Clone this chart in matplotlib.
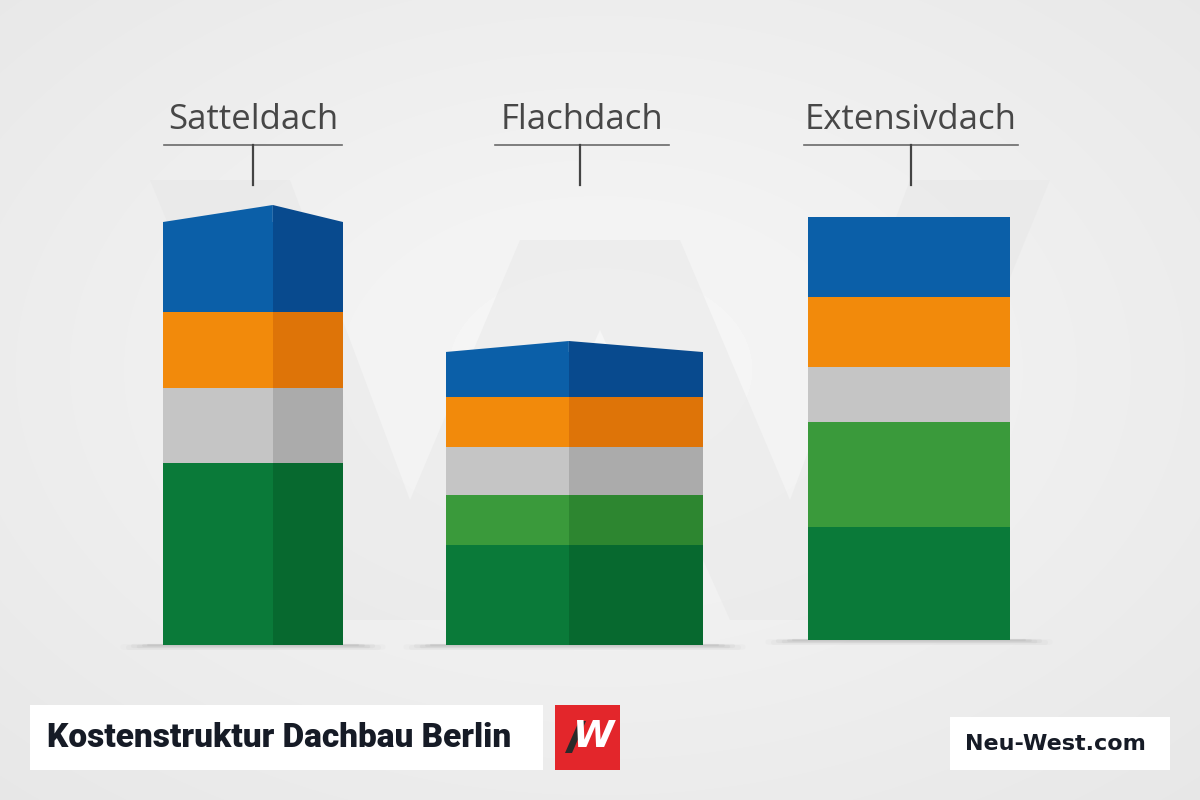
import numpy as np
import matplotlib.pyplot as plt
from matplotlib.patches import Polygon, Rectangle

# Kostenanteile je Dachtyp (relative Einheiten, von unten nach oben)
categories = ['Satteldach', 'Flachdach', 'Extensivdach']
segments = ['Unterkonstruktion', 'Begrünung', 'Dämmung', 'Abdichtung', 'Eindeckung']
unterkonstruktion = [182, 100, 113]
begruenung = [0, 50, 105]
daemmung = [75, 48, 55]
abdichtung = [76, 50, 70]
eindeckung = [90, 45, 80]
title = 'Kostenstruktur Dachbau Berlin'
brand = 'Neu-West.com'

# layout (pixel coordinates, y up)
bases = [155, 155, 160]
centers = [253, 574, 909]
widths = [180, 257, 202]
ridge = [0.61, 0.48, None]      # position of the darker side face, None = flat front
peak = [17, 11, 0]
label_y = 680
col_front = ['#0a7a39', '#3a9a3b', '#c5c5c5', '#f28a0b', '#0b5fa8']
col_side = ['#07692f', '#2d8630', '#ababab', '#de7408', '#084a8e']

fig = plt.figure(figsize=(12, 8), dpi=100)
ax = fig.add_axes([0, 0, 1, 1])
ax.set_xlim(0, 1200)
ax.set_ylim(0, 800)
ax.axis('off')

# background gradient
yy, xx = np.mgrid[0:800, 0:1200]
r = np.sqrt(((xx - 600) / 900) ** 2 + ((yy - 430) / 600) ** 2)
ax.imshow(0.968 - 0.065 * r, cmap='gray', vmin=0, vmax=1, extent=[0, 1200, 0, 800],
          origin='lower', zorder=0, aspect='auto')

# very faint watermark "W" shape behind the bars
wm = [[150, 620], [290, 620], [410, 300], [520, 560], [680, 560], [790, 300],
      [910, 620], [1050, 620], [870, 180], [730, 180], [600, 470], [470, 180],
      [330, 180]]
ax.add_patch(Polygon(wm, closed=True, facecolor='#e6e6e6', edgecolor='none',
                     alpha=0.45, zorder=0.5))

values = np.array([unterkonstruktion, begruenung, daemmung, abdichtung, eindeckung])

for i, cat in enumerate(categories):
    cx, w, base = centers[i], widths[i], bases[i]
    left = cx - w / 2
    # soft shadow
    for k in range(6):
        ax.plot([left - 40 + k * 5, left + w + 40 - k * 5], [base - 2 + k * 0.4] * 2,
                color='#a0a0a0', alpha=0.04 + 0.025 * k, lw=4 - k * 0.5,
                solid_capstyle='round', zorder=1)
    bottom = base
    for s in range(len(segments)):
        v = values[s][i]
        if v == 0:
            continue
        if ridge[i] is None:
            ax.bar(cx, v, width=w, bottom=bottom, color=col_front[s], zorder=2)
        else:
            xr = left + ridge[i] * w
            ax.bar(left, v, width=xr - left, bottom=bottom, align='edge',
                   color=col_front[s], zorder=2)
            ax.bar(xr, v, width=left + w - xr, bottom=bottom, align='edge',
                   color=col_side[s], zorder=2)
        bottom += v
    # roof peak on top segment
    if peak[i] > 0:
        xr = left + ridge[i] * w
        ax.add_patch(Polygon([[left, bottom], [xr, bottom + peak[i]], [xr, bottom]],
                             closed=True, color=col_front[-1], zorder=2, lw=0))
        ax.add_patch(Polygon([[xr, bottom], [xr, bottom + peak[i]], [left + w, bottom]],
                             closed=True, color=col_side[-1], zorder=2, lw=0))
    # label with bracket
    dx = [0, 8, 2][i]
    ax.text(cx + dx, label_y, cat, fontsize=25, color='#474747', ha='center',
            va='center', family='Open Sans', zorder=3)
    hw = [89, 87, 107][i]
    ax.plot([cx - hw + dx, cx + hw + dx], [655, 655], color='#6a6a6a', lw=1.2, zorder=3)
    ax.plot([cx + [0, 6, 2][i]] * 2, [615, 655], color='#444444', lw=1.6, zorder=3)

# title box
ax.add_patch(Rectangle((30, 30), 513, 65, facecolor='white', edgecolor='none', zorder=3))
ax.text(47, 62, title, fontsize=24, fontweight='black', color='#161b26',
        ha='left', va='center', family='Roboto', zorder=4)

# logo
ax.add_patch(Rectangle((555, 30), 65, 65, facecolor='#e3262b', edgecolor='none', zorder=3))
ax.add_patch(Polygon([[565, 47], [572, 47], [586, 79], [579, 79]], closed=True,
                     color='#2a2a2a', zorder=4, lw=0))
ax.text(594, 63, 'W', fontsize=27, fontweight='bold', style='italic', color='white',
        ha='center', va='center', family='DejaVu Sans', zorder=4)

# brand box
ax.add_patch(Rectangle((950, 30), 220, 53, facecolor='white', edgecolor='none', zorder=3))
ax.text(1055, 56, brand, fontsize=16, fontweight='bold', color='#161b26',
        ha='center', va='center', family='DejaVu Sans', zorder=4)

fig.savefig('out.png', dpi=100)
